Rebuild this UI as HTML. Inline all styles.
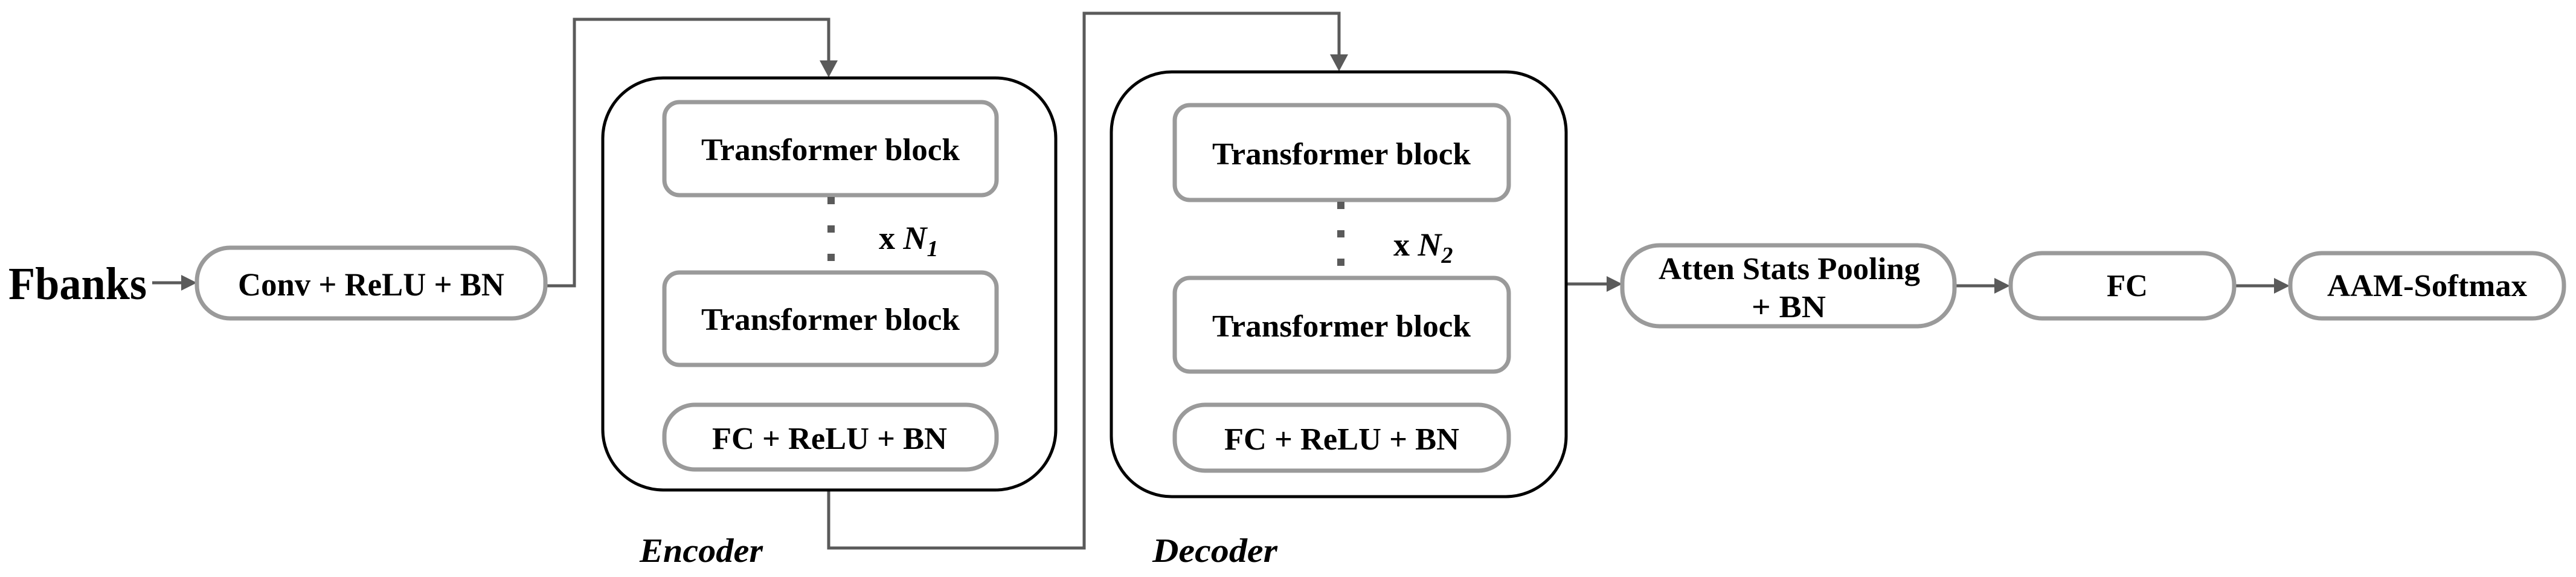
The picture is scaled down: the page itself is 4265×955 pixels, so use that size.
<!DOCTYPE html>
<html><head><meta charset="utf-8"><style>html,body{margin:0;padding:0;background:#fff}svg{display:block}</style></head>
<body>
<svg width="4265" height="955" viewBox="0 0 4265 955" xmlns="http://www.w3.org/2000/svg" font-family="'Liberation Serif', serif" font-weight="bold">
<defs>
<marker id="ah" markerWidth="10" markerHeight="10" refX="9" refY="5" orient="auto" markerUnits="userSpaceOnUse" viewBox="0 0 10 10">
</marker>
</defs>
<g fill="none" stroke="#5a5a5a" stroke-width="5">
<!-- fbanks arrow -->
<line x1="252" y1="468" x2="300" y2="468"/>
<!-- conv to encoder -->
<polyline points="903,473 951,473 951,32 1372,32 1372,100"/>
<!-- encoder to decoder -->
<polyline points="1372,811 1372,907 1795,907 1795,22 2217,22 2217,90"/>
<!-- decoder to atten -->
<line x1="2593" y1="470" x2="2660" y2="470"/>
<line x1="3236" y1="473" x2="3302" y2="473"/>
<line x1="3699" y1="473" x2="3765" y2="473"/>
</g>
<g fill="#5a5a5a">
<polygon points="300,455 326,468 300,481"/>
<polygon points="1357,100 1387,100 1372,128"/>
<polygon points="2202,90 2232,90 2217,118"/>
<polygon points="2660,457 2686,470 2660,483"/>
<polygon points="3302,460 3328,473 3302,486"/>
<polygon points="3765,460 3791,473 3765,486"/>
</g>
<!-- outer boxes -->
<g fill="none" stroke="#000" stroke-width="5">
<rect x="998" y="129" width="750" height="682" rx="100" ry="100"/>
<rect x="1840" y="119" width="753" height="703" rx="100" ry="100"/>
</g>
<!-- gray boxes -->
<g fill="#fff" stroke="#9a9a9a" stroke-width="7">
<rect x="326" y="410" width="577" height="117" rx="55" ry="55"/>
<rect x="1100" y="169" width="550" height="154" rx="25" ry="25"/>
<rect x="1100" y="451" width="550" height="153" rx="25" ry="25"/>
<rect x="1100" y="670" width="550" height="107" rx="50" ry="50"/>
<rect x="1945" y="174" width="553" height="157" rx="25" ry="25"/>
<rect x="1945" y="460" width="553" height="155" rx="25" ry="25"/>
<rect x="1945" y="670" width="553" height="109" rx="50" ry="50"/>
<rect x="2686" y="406" width="550" height="134" rx="62" ry="62"/>
<rect x="3329" y="419" width="370" height="108" rx="52" ry="52"/>
<rect x="3792" y="419" width="453" height="108" rx="52" ry="52"/>
</g>
<!-- dots -->
<g fill="#5a5a5a">
<rect x="1370" y="326" width="12" height="12"/>
<rect x="1370" y="373" width="12" height="12"/>
<rect x="1370" y="420" width="12" height="12"/>
<rect x="2214" y="334" width="12" height="12"/>
<rect x="2214" y="381" width="12" height="12"/>
<rect x="2214" y="428" width="12" height="12"/>
</g>
<g fill="#000">
<text x="14" y="495" font-size="76" textLength="229" lengthAdjust="spacingAndGlyphs">Fbanks</text>
<text x="394" y="489" font-size="54" textLength="441" lengthAdjust="spacingAndGlyphs">Conv + ReLU + BN</text>
<text x="1161" y="265" font-size="52" textLength="428" lengthAdjust="spacingAndGlyphs">Transformer block</text>
<text x="1161" y="546" font-size="52" textLength="428" lengthAdjust="spacingAndGlyphs">Transformer block</text>
<text x="1179" y="743" font-size="52" textLength="389" lengthAdjust="spacingAndGlyphs">FC + ReLU + BN</text>
<text x="2007" y="272" font-size="52" textLength="428" lengthAdjust="spacingAndGlyphs">Transformer block</text>
<text x="2007" y="557" font-size="52" textLength="428" lengthAdjust="spacingAndGlyphs">Transformer block</text>
<text x="2027" y="744" font-size="52" textLength="389" lengthAdjust="spacingAndGlyphs">FC + ReLU + BN</text>
<text x="1455" y="412" font-size="54">x <tspan font-style="italic">N</tspan><tspan font-style="italic" font-size="38" dy="12">1</tspan></text>
<text x="2307" y="423" font-size="54">x <tspan font-style="italic">N</tspan><tspan font-style="italic" font-size="38" dy="12">2</tspan></text>
<text x="2746" y="462" font-size="52" textLength="433" lengthAdjust="spacingAndGlyphs">Atten Stats Pooling</text>
<text x="2900" y="525" font-size="52" textLength="123" lengthAdjust="spacingAndGlyphs">+ BN</text>
<text x="3488" y="490" font-size="52" textLength="68" lengthAdjust="spacingAndGlyphs">FC</text>
<text x="3853" y="490" font-size="52" textLength="331" lengthAdjust="spacingAndGlyphs">AAM-Softmax</text>
<text x="1059" y="930" font-size="56" font-style="italic" textLength="204" lengthAdjust="spacingAndGlyphs">Encoder</text>
<text x="1908" y="930" font-size="56" font-style="italic" textLength="207" lengthAdjust="spacingAndGlyphs">Decoder</text>
</g>
</svg>
</body></html>
